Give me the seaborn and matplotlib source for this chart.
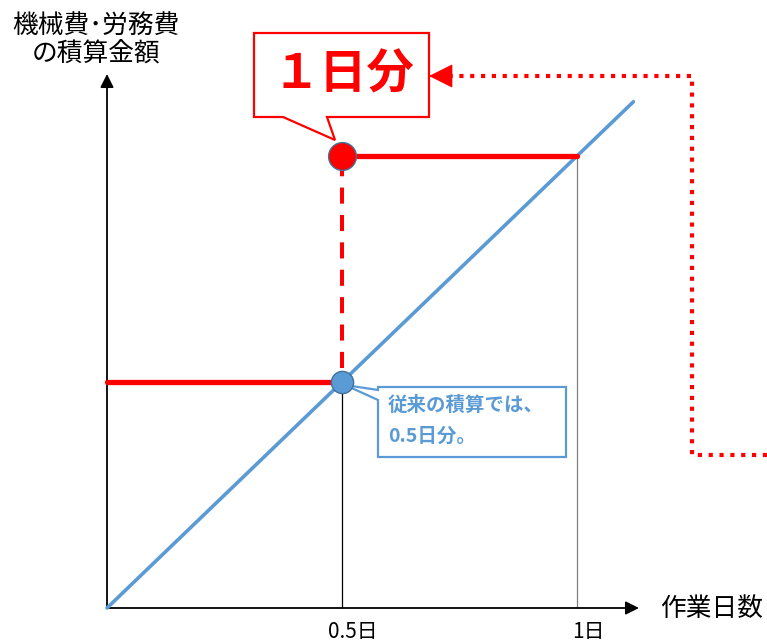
import matplotlib
matplotlib.use("Agg")
import matplotlib.pyplot as plt
from matplotlib.patches import Polygon
import seaborn as sns

sns.set_theme(style="white")
plt.rcParams['font.family'] = ['Noto Sans CJK JP', 'DejaVu Sans']

# data (x: working days, y: estimated cost, same scale)
line_days = [0.0, 1.12]
line_cost = [0.0, 1.12]
tick_days = [0.5, 1.0]
tick_labels = ['0.5日', '1日']
conv_day = 0.5      # conventional estimate point
conv_cost = 0.5
actual_cost = 1.0   # one full day charged

RED = '#FF0000'
BLUE = '#5B9BD5'

# pixel-to-data mapping: origin at (107, 608), 470 px per day, 452 px per unit cost
def px(x):
    return (x - 107) / 470

def py(y):
    return (608 - y) / 452

fig = plt.figure(figsize=(7.67, 6.44), dpi=100)
ax = fig.add_axes([0, 0, 1, 1])
ax.set_xlim(px(0), px(767))
ax.set_ylim(py(644), py(0))
ax.axis('off')

# axes with arrows
ax.annotate('', xy=(px(639), 0), xytext=(0, 0),
            arrowprops=dict(arrowstyle='-|>', color='black', lw=1.3,
                            mutation_scale=20, shrinkA=0, shrinkB=0))
ax.annotate('', xy=(0, py(74)), xytext=(0, 0),
            arrowprops=dict(arrowstyle='-|>', color='black', lw=1.3,
                            mutation_scale=20, shrinkA=0, shrinkB=0))

# thin guide lines
ax.vlines(tick_days[0], 0, conv_cost, color='black', lw=0.9, zorder=2)
ax.vlines(tick_days[1], 0, actual_cost, color='#808080', lw=0.9, zorder=2)

# diagonal cost line
sns.lineplot(x=line_days, y=line_cost, ax=ax, color=BLUE, lw=2.6, zorder=3)

# red levels
sns.lineplot(x=[0, conv_day], y=[conv_cost, conv_cost], ax=ax, color=RED,
             lw=3.8, zorder=4)
sns.lineplot(x=[conv_day, tick_days[1]], y=[actual_cost, actual_cost], ax=ax,
             color=RED, lw=3.8, zorder=4)
ax.plot([conv_day, conv_day], [conv_cost + 0.03, actual_cost - 0.03], color=RED,
        lw=2.9, dashes=(4, 2.8), zorder=4)

# points
ax.plot(conv_day, actual_cost, 'o', ms=20, color=RED, mec='#41719C', mew=1,
        zorder=6)
ax.plot(conv_day, conv_cost, 'o', ms=16, color=BLUE, mec='#41719C', mew=1,
        zorder=6)

# tick labels and axis titles
for d, lab in zip(tick_days, tick_labels):
    ax.text(d + px(118), py(632), lab, ha='center', va='center', fontsize=15,
            color='black')
ax.text(px(660), py(609), '作業日数', ha='left', va='center', fontsize=18.5,
        color='black')
ax.text(px(96), py(40), '機械費･労務費\nの積算金額', ha='center', va='center',
        fontsize=18.5, color='black', linespacing=1.15)

# red callout "1日分"
red_box = [(px(254), py(33)), (px(429), py(33)), (px(429), py(117)),
           (px(327), py(117)), (px(335), py(140)), (px(283), py(117)),
           (px(254), py(117))]
ax.add_patch(Polygon(red_box, closed=True, fc='white', ec=RED, lw=1.6,
                     zorder=5))
ax.text(px(343), py(75), '１日分', ha='center', va='center', fontsize=34,
        fontweight='bold', color=RED, zorder=7)

# dotted arrow pointing to callout
ax.plot([px(767), px(692), px(692), px(445)],
        [py(455), py(455), py(76), py(76)], color=RED, lw=3,
        dashes=(1.0, 1.6), solid_capstyle='butt', dash_capstyle='butt',
        zorder=4)
ax.annotate('', xy=(px(429), py(76)), xytext=(px(452), py(76)),
            arrowprops=dict(arrowstyle='-|>', color=RED, lw=1,
                            mutation_scale=38, shrinkA=0, shrinkB=0))

# blue callout
blue_box = [(px(378), py(387)), (px(566), py(387)), (px(566), py(457)),
            (px(378), py(457)), (px(378), py(400)), (px(345), py(385)),
            (px(378), py(390))]
ax.add_patch(Polygon(blue_box, closed=True, fc='white', ec=BLUE, lw=1.6,
                     zorder=5))
ax.text(px(388), py(405), '従来の積算では、', ha='left', va='center',
        fontsize=14, fontweight='bold', color=BLUE, zorder=7)
ax.text(px(388), py(436), '0.5日分。', ha='left', va='center',
        fontsize=14, fontweight='bold', color=BLUE, zorder=7)

fig.savefig('out.png', dpi=100)
